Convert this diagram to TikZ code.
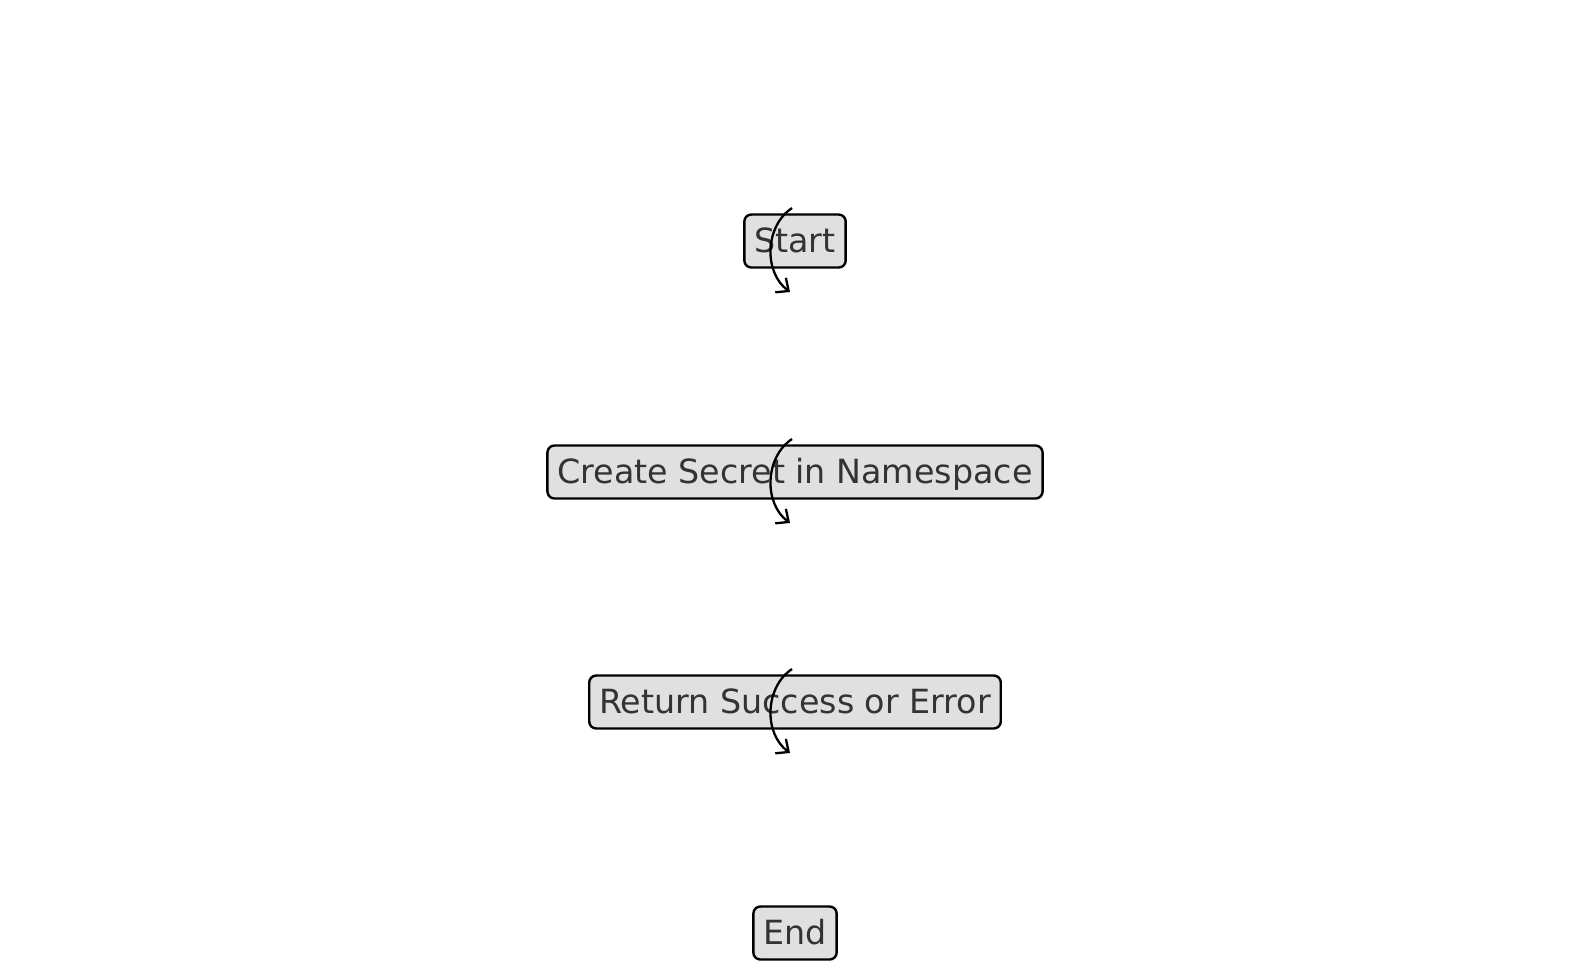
\documentclass[tikz,border=0pt]{standalone}
\usepackage{fontspec}
\setmainfont{DejaVu Sans}
\usepackage{tikz}
\usetikzlibrary{arrows.meta}
\definecolor{boxgray}{HTML}{E0E0E0}
\definecolor{textgray}{HTML}{333333}
\tikzset{
  stepnode/.style={draw=black, line width=1.2pt, rounded corners=3.5pt, fill=boxgray,
    text=textgray, font=\fontsize{16.65}{20}\selectfont, inner xsep=5pt, inner ysep=2pt,
    minimum height=26.5pt, text height=1.1em, text depth=0pt},
  flow/.style={line width=1.15pt, -{Straight Barb[length=5pt, width=9pt]}, bend right=55}
}
\begin{document}
\begin{tikzpicture}[x=0.5pt, y=-0.5pt]
\useasboundingbox (0,0) rectangle (1589,971);
\begin{scope}
    \node[stepnode] (a) at (795,241) {Start};
    \node[stepnode] (b) at (795,472) {Create Secret in Namespace};
    \node[stepnode] (c) at (795,702) {Return Success or Error};
    \node[stepnode] (d) at (795,933) {End};

    % arrows start above each box and end below it
    \coordinate (a1) at ([shift={(-1.5pt,16.5pt)}]a.center);
    \coordinate (a2) at ([shift={(-2.5pt,-25.5pt)}]a.center);
    \coordinate (b1) at ([shift={(-1.5pt,16.5pt)}]b.center);
    \coordinate (b2) at ([shift={(-2.5pt,-25.5pt)}]b.center);
    \coordinate (c1) at ([shift={(-1.5pt,16.5pt)}]c.center);
    \coordinate (c2) at ([shift={(-2.5pt,-25.5pt)}]c.center);

    \path [flow] (a1) edge (a2);
    \path [flow] (b1) edge (b2);
    \path [flow] (c1) edge (c2);
\end{scope}
\end{tikzpicture}
\end{document}
